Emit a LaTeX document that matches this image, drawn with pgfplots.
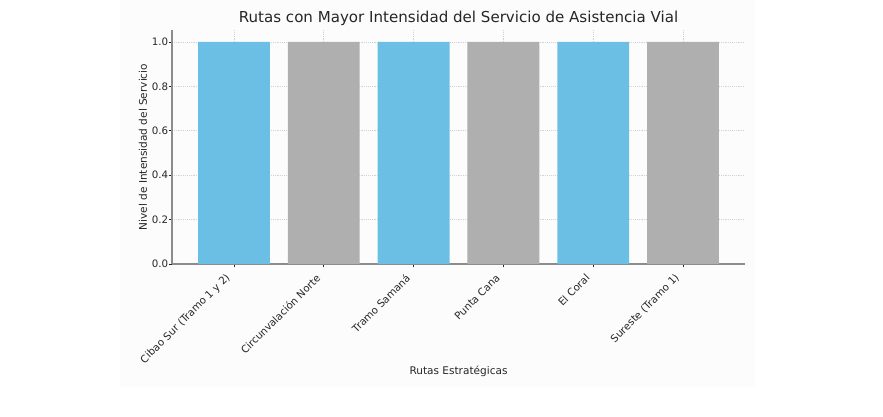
\documentclass[border=0pt]{standalone}
\usepackage{pgfplots}
\pgfplotsset{compat=1.18}
\usepackage{fontspec}
\setmainfont{DejaVu Sans}

\definecolor{barblue}{HTML}{6CBFE4}
\definecolor{bargray}{HTML}{AFAFAF}
\definecolor{spine}{HTML}{8C8C8C}
\definecolor{txt}{HTML}{262626}

\begin{document}
\begin{tikzpicture}
% picture frame: 883 x 417 px at 0.75pt per px, axis box at (172,264) px
\useasboundingbox (-129pt,-114.75pt) rectangle (533.25pt,198pt);
\fill[black!1] (-39pt,-92.25pt) rectangle (437.25pt,198pt);
\begin{axis}[
    at={(0,0)}, anchor=south west,
    scale only axis,
    width=429.75pt, height=175.5pt,
    ybar, bar shift=0pt, bar width=0.8,
    xmin=-0.69, xmax=5.69,
    ymin=0, ymax=1.054,
    xtick={0,1,2,3,4,5},
    xticklabels={Cibao Sur (Tramo 1 y 2), Circunvalación Norte, Tramo Samaná, Punta Cana, El Coral, Sureste (Tramo 1)},
    ytick={0,0.2,0.4,0.6,0.8,1.0},
    /pgf/number format/assume math mode=true,
    /pgf/number format/fixed,
    /pgf/number format/fixed zerofill,
    /pgf/number format/precision=1,
    ticklabel style={font=\fontsize{7.7}{9}\selectfont, text=txt},
    xticklabel style={inner sep=0pt, xshift=-4pt, yshift=-6.4pt, rotate=45, anchor=east},
    yticklabel style={inner sep=0pt, xshift=0pt},
    axis x line*=bottom, axis y line*=left,
    axis line style={spine, line width=0.8pt, -},
    tick align=outside, tick pos=left,
    major tick length=2.6pt,
    tick style={txt, line width=0.6pt},
    ymajorgrids, xmajorgrids,
    major grid style={densely dotted, gray!35, line width=0.5pt},
    every axis title shift=0pt,
    title={Rutas con Mayor Intensidad del Servicio de Asistencia Vial},
    title style={at={(axis description cs:0.5,1.0513)}, anchor=center, yshift=0pt, font=\fontsize{11.3}{13}\selectfont, text=txt},
    xlabel={Rutas Estratégicas},
    xlabel style={at={(axis description cs:0.5,-0.457)}, anchor=center, font=\fontsize{7.9}{9}\selectfont, text=txt},
    ylabel={Nivel de Intensidad del Servicio},
    ylabel style={at={(axis description cs:-0.0506,0.5)}, anchor=center, font=\fontsize{7.9}{9}\selectfont, text=txt},
]
\addplot[fill=barblue, draw=none] coordinates {(0,1.0) (2,1.0) (4,1.0)};
\addplot[fill=bargray, draw=none] coordinates {(1,1.0) (3,1.0) (5,1.0)};
\end{axis}
\end{tikzpicture}
\end{document}
